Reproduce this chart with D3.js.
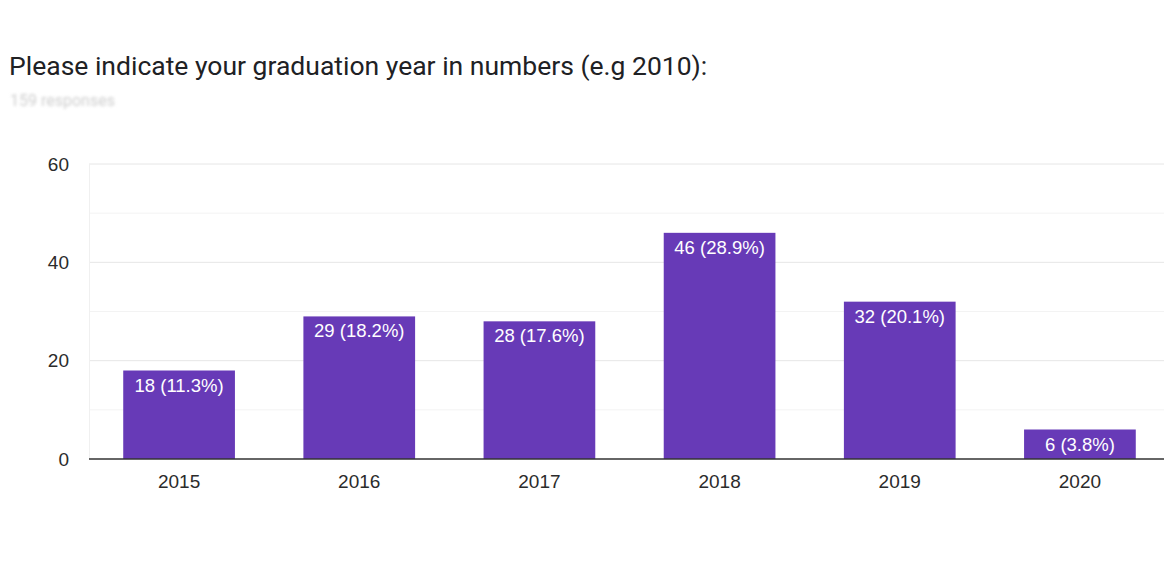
<!DOCTYPE html>
<html>
<head>
<meta charset="utf-8">
<script src="https://cdn.jsdelivr.net/npm/d3@7"></script>
<style>
  body { margin: 0; background: #fff; }
  text { font-family: 'Liberation Sans', Arial, sans-serif; }
</style>
</head>
<body>
<script>
// data
var years = ['2015', '2016', '2017', '2018', '2019', '2020'];
var counts = [18, 29, 28, 46, 32, 6];
var percents = ['11.3%', '18.2%', '17.6%', '28.9%', '20.1%', '3.8%'];
var yTicks = [0, 20, 40, 60];
var minorTicks = [10, 30, 50];

var width = 1164, height = 574;
var barColor = '#673ab7';

var svg = d3.select('body').append('svg')
  .attr('width', width)
  .attr('height', height);

var defs = svg.append('defs');
defs.append('filter').attr('id', 'blur')
  .append('feGaussianBlur').attr('stdDeviation', 1.8);

// title
svg.append('text')
  .attr('x', 9)
  .attr('y', 75)
  .style('font-family', 'Roboto, sans-serif')
  .style('font-size', '26.5px')
  .style('fill', '#202124')
  .text('Please indicate your graduation year in numbers (e.g 2010):');

// blurred response count
svg.append('text')
  .attr('x', 10)
  .attr('y', 106)
  .style('font-family', 'Roboto, sans-serif')
  .style('font-size', '16px')
  .style('fill', '#cfcfcf')
  .attr('filter', 'url(#blur)')
  .text('159 responses');

var x = d3.scaleBand()
  .domain(years)
  .range([89, 1170])
  .paddingInner(0.38)
  .paddingOuter(0.19);

var y = d3.scaleLinear()
  .domain([0, 60])
  .range([459, 164]);

// minor gridlines
svg.selectAll('.minor')
  .data(minorTicks)
  .enter().append('line')
  .attr('class', 'minor')
  .attr('x1', 89).attr('x2', width)
  .attr('y1', function(d) { return y(d); })
  .attr('y2', function(d) { return y(d); })
  .style('stroke', '#f3f3f3')
  .style('stroke-width', 1);

// major gridlines
svg.selectAll('.grid')
  .data(yTicks.slice(1))
  .enter().append('line')
  .attr('class', 'grid')
  .attr('x1', 89).attr('x2', width)
  .attr('y1', function(d) { return y(d); })
  .attr('y2', function(d) { return y(d); })
  .style('stroke', '#e6e6e6')
  .style('stroke-width', 1);

// faint left edge
svg.append('line')
  .attr('x1', 89.5).attr('x2', 89.5)
  .attr('y1', y(60)).attr('y2', y(0))
  .style('stroke', '#f0f0f0');

// y tick labels
svg.selectAll('.ylab')
  .data(yTicks)
  .enter().append('text')
  .attr('class', 'ylab')
  .attr('x', 69)
  .attr('y', function(d) { return y(d); })
  .attr('dy', '0.35em')
  .attr('text-anchor', 'end')
  .style('font-size', '19px')
  .style('fill', '#2b2b2b')
  .text(function(d) { return d; });

// bars
var bars = svg.selectAll('.bar')
  .data(years)
  .enter().append('g')
  .attr('class', 'bar');

bars.append('rect')
  .attr('x', function(d) { return x(d); })
  .attr('width', x.bandwidth())
  .attr('y', function(d, i) { return y(counts[i]); })
  .attr('height', function(d, i) { return y(0) - y(counts[i]); })
  .style('fill', barColor);

bars.append('text')
  .attr('x', function(d) { return x(d) + x.bandwidth() / 2; })
  .attr('y', function(d, i) { return y(counts[i]) + 21; })
  .attr('text-anchor', 'middle')
  .style('font-size', '18.5px')
  .style('fill', '#fff')
  .text(function(d, i) { return counts[i] + ' (' + percents[i] + ')'; });

// baseline
svg.append('line')
  .attr('x1', 89).attr('x2', width)
  .attr('y1', y(0)).attr('y2', y(0))
  .style('stroke', '#333')
  .style('stroke-width', 1.5);

// x tick labels
svg.selectAll('.xlab')
  .data(years)
  .enter().append('text')
  .attr('class', 'xlab')
  .attr('x', function(d) { return x(d) + x.bandwidth() / 2; })
  .attr('y', 488)
  .attr('text-anchor', 'middle')
  .style('font-size', '19px')
  .style('fill', '#2b2b2b')
  .text(function(d) { return d; });
</script>
</body>
</html>
